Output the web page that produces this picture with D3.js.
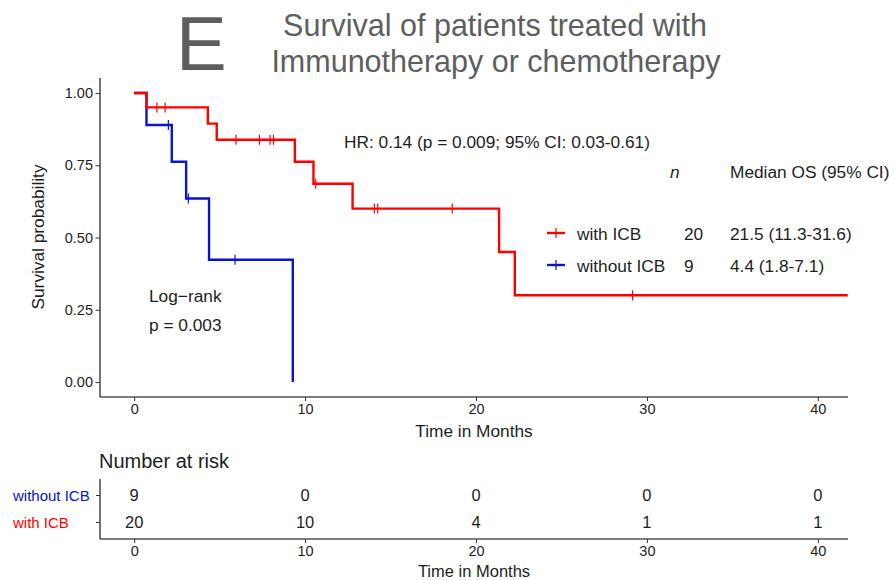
<!DOCTYPE html>
<html><head><meta charset="utf-8">
<script src="https://cdn.jsdelivr.net/npm/d3@7"></script>
<style>body{margin:0;background:#fff}svg{display:block}text{font-family:"Liberation Sans",Arial,Helvetica,sans-serif}</style>
</head><body>
<script>
// ---- data ----
const groups = ["with ICB", "without ICB"];
const groupColors = ["#ff0000", "#0a14cc"];
const nTotal = [20, 9];
const medianOS = ["21.5 (11.3-31.6)", "4.4 (1.8-7.1)"];
// step curves: times at which survival changes, and survival after change
const redTimes = [0, 0.72, 4.31, 4.83, 9.4, 10.49, 12.78, 21.35, 22.27];
const redSurv  = [1, 0.95, 0.894, 0.838, 0.762, 0.686, 0.600, 0.45, 0.30];
const redEnd = 41.75;
const redCensor = [1.33, 1.81, 5.96, 7.33, 7.95, 8.15, 10.62, 14.05, 14.25, 18.61, 29.16];
const blueTimes = [0, 0.72, 2.2, 3.04, 4.38, 9.28];
const blueSurv  = [1, 0.889, 0.762, 0.635, 0.423, 0];
const blueEnd = 9.28;
const blueCensor = [2.0, 3.17, 5.9];
const xTicks = [0, 10, 20, 30, 40];
const yTicks = [0, 0.25, 0.5, 0.75, 1.0];
const riskGroups = ["without ICB", "with ICB"];
const riskWith = [20, 10, 4, 1, 1];
const riskWithout = [9, 0, 0, 0, 0];

const W = 894, H = 580;
const svg = d3.select("body").append("svg").attr("width", W).attr("height", H);
const x = d3.scaleLinear().domain([-2, 42]).range([100, 852]);
const y = d3.scaleLinear().domain([-0.05, 1.05]).range([396.5, 78.5]);
const txt = "#1e1e1e";
const FS = 17.3;

// title
svg.append("text").attr("x", 176).attr("y", 70).attr("font-size", 76).attr("fill", "#5e5e5e").text("E");
svg.append("text").attr("x", 495).attr("y", 36).attr("text-anchor", "middle").attr("font-size", 30.5).attr("fill", "#5e5e5e").text("Survival of patients treated with");
svg.append("text").attr("x", 496).attr("y", 72).attr("text-anchor", "middle").attr("font-size", 30.5).attr("fill", "#5e5e5e").text("Immunotherapy or chemotherapy");

// axes
const xAxis = d3.axisBottom(x).tickValues(xTicks).tickSize(4).tickPadding(3);
const yAxis = d3.axisLeft(y).tickValues(yTicks).tickSize(4.5).tickPadding(2.5).tickFormat(d3.format(".2f"));
function styleAxis(g){
  g.select(".domain").attr("stroke", "#000").attr("stroke-width", 1.1);
  g.selectAll(".tick line").attr("stroke", "#333");
  g.selectAll(".tick text").attr("font-size", 14.5).attr("fill", txt).attr("font-family", '"Liberation Sans",Arial,sans-serif');
}
const gx = svg.append("g").attr("transform", "translate(0,397)").call(xAxis).call(styleAxis);
gx.select(".domain").attr("d", "M100,0H848");
const gy = svg.append("g").attr("transform", "translate(100,0)").call(yAxis).call(styleAxis);
gy.select(".domain").attr("d", "M0,78H0V397");

svg.append("text").attr("x", 474).attr("y", 437).attr("text-anchor", "middle").attr("font-size", FS).attr("fill", txt).text("Time in Months");
svg.append("text").attr("transform", "translate(44,237) rotate(-90)").attr("text-anchor", "middle").attr("font-size", FS).attr("fill", txt).text("Survival probability");

// curves
function stepPath(times, surv, end){
  const pts = times.map((t, i) => [t, surv[i]]);
  pts.push([end, surv[surv.length - 1]]);
  return d3.line().x(d => x(d[0])).y(d => y(d[1])).curve(d3.curveStepAfter)(pts);
}
function survAt(times, surv, t){
  let s = surv[0];
  for (let i = 0; i < times.length; i++) if (times[i] <= t) s = surv[i];
  return s;
}
const curves = [
  {times: blueTimes, surv: blueSurv, end: blueEnd, cens: blueCensor, color: groupColors[1]},
  {times: redTimes, surv: redSurv, end: redEnd, cens: redCensor, color: groupColors[0]}
];
curves.forEach(c => {
  svg.append("path").attr("d", stepPath(c.times, c.surv, c.end)).attr("fill", "none")
    .attr("stroke", c.color).attr("stroke-width", 2.4);
  svg.selectAll(null).data(c.cens).enter().append("line")
    .attr("x1", d => x(d)).attr("x2", d => x(d))
    .attr("y1", d => y(survAt(c.times, c.surv, d)) - 5).attr("y2", d => y(survAt(c.times, c.surv, d)) + 5)
    .attr("stroke", c.color).attr("stroke-width", 1.2);
});

// annotations
svg.append("text").attr("x", 344).attr("y", 148).attr("font-size", FS).attr("fill", txt).text("HR: 0.14 (p = 0.009; 95% CI: 0.03-0.61)");
svg.append("text").attr("x", 149).attr("y", 302).attr("font-size", FS).attr("fill", txt).text("Log\u2212rank");
svg.append("text").attr("x", 149).attr("y", 331).attr("font-size", FS).attr("fill", txt).text("p = 0.003");

// legend table
svg.append("text").attr("x", 670).attr("y", 178).attr("font-size", FS).attr("font-style", "italic").attr("fill", txt).text("n");
svg.append("text").attr("x", 730).attr("y", 178).attr("font-size", FS).attr("fill", txt).text("Median OS (95% CI)");
groups.forEach((g, i) => {
  const yy = 233 + i * 32;
  svg.append("line").attr("x1", 547).attr("x2", 565).attr("y1", yy).attr("y2", yy).attr("stroke", groupColors[i]).attr("stroke-width", 2.4);
  svg.append("line").attr("x1", 556).attr("x2", 556).attr("y1", yy - 5).attr("y2", yy + 5).attr("stroke", groupColors[i]).attr("stroke-width", 1.2);
  svg.append("text").attr("x", 577).attr("y", yy + 6.5).attr("font-size", FS).attr("fill", txt).text(g);
  svg.append("text").attr("x", 684).attr("y", yy + 6.5).attr("font-size", FS).attr("fill", txt).text(nTotal[i]);
  svg.append("text").attr("x", 730).attr("y", yy + 6.5).attr("font-size", FS).attr("fill", txt).text(medianOS[i]);
});

// risk table
svg.append("text").attr("x", 99).attr("y", 468).attr("font-size", 20).attr("fill", txt).text("Number at risk");
const ry = d3.scalePoint().domain(riskGroups).range([495, 522]);
const gx2 = svg.append("g").attr("transform", "translate(0,539)").call(xAxis).call(styleAxis);
gx2.select(".domain").attr("d", "M100,0H848");
const gy2 = svg.append("g").attr("transform", "translate(100,0)").call(d3.axisLeft(ry).tickSize(4).tickFormat("")).call(styleAxis);
gy2.select(".domain").attr("d", "M0,479V539");
riskGroups.forEach(g => {
  svg.append("text").attr("x", 13).attr("y", ry(g) + 5.5).attr("font-size", 15)
    .attr("fill", g === "with ICB" ? groupColors[0] : groupColors[1]).text(g);
});
svg.append("text").attr("x", 474).attr("y", 577).attr("text-anchor", "middle").attr("font-size", 16.5).attr("fill", txt).text("Time in Months");
[[riskWithout, "without ICB"], [riskWith, "with ICB"]].forEach(([vals, g]) => {
  svg.selectAll(null).data(vals).enter().append("text")
    .attr("x", (d, i) => x(xTicks[i])).attr("y", ry(g) + 6).attr("text-anchor", "middle")
    .attr("font-size", 16.5).attr("fill", txt).text(d => d);
});
</script>
</body></html>
